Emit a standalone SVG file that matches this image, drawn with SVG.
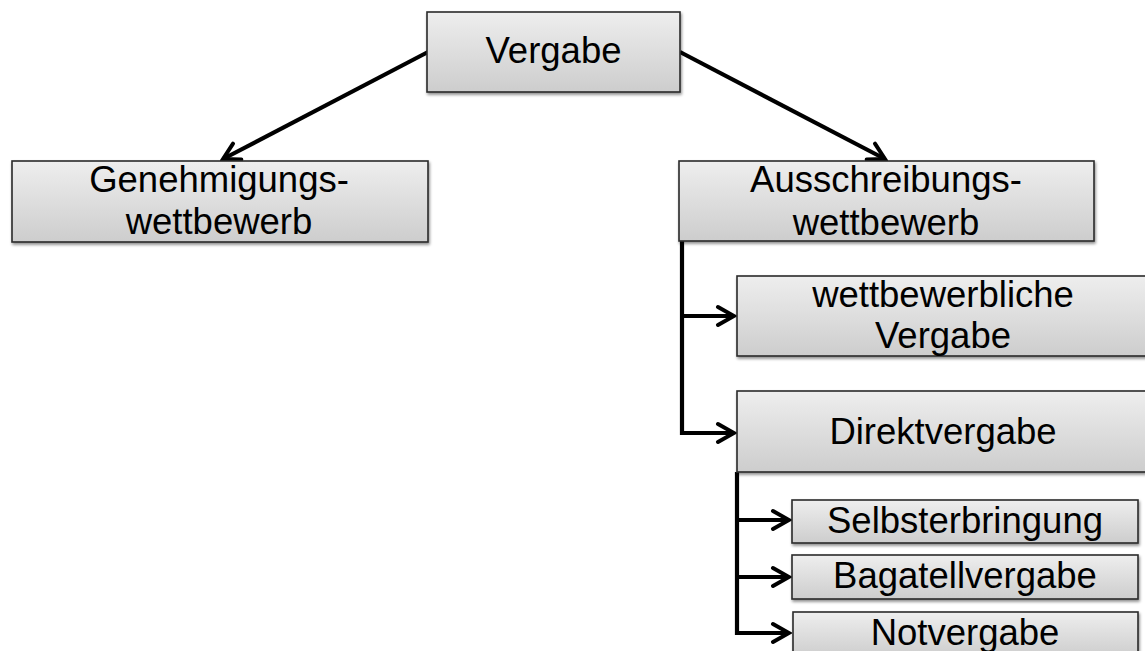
<svg xmlns="http://www.w3.org/2000/svg" width="1145" height="651" viewBox="0 0 1145 651">
  <defs>
    <linearGradient id="boxFill" x1="0" y1="0" x2="0" y2="1">
      <stop offset="0" stop-color="#eeeeee"/>
      <stop offset="1" stop-color="#cdcdcd"/>
    </linearGradient>
    <filter id="shadow" x="-5%" y="-10%" width="110%" height="130%">
      <feGaussianBlur in="SourceAlpha" stdDeviation="1.5"/>
      <feOffset dx="1" dy="2" result="b"/>
      <feComponentTransfer><feFuncA type="linear" slope="0.45"/></feComponentTransfer>
      <feMerge><feMergeNode/><feMergeNode in="SourceGraphic"/></feMerge>
    </filter>
    <!-- open chevron head, sized in user units -->
    <marker id="arrow" viewBox="0 0 22 24" refX="19" refY="12" markerWidth="22" markerHeight="24" markerUnits="userSpaceOnUse" orient="auto">
      <path d="M3,3 L19,12 L3,21" fill="none" stroke="#000" stroke-width="4" stroke-linecap="round" stroke-linejoin="miter"/>
    </marker>
  </defs>
  <style>
    .box { fill: url(#boxFill); stroke: #2a2a2a; stroke-width: 1.6; filter: url(#shadow); }
    .lbl { font-family: "Liberation Sans", Arial, sans-serif; font-size: 36.5px; fill: #000; text-anchor: middle; }
    .conn { fill: none; stroke: #000; stroke-width: 4.2; stroke-linejoin: miter; }
  </style>

  <rect width="1145" height="651" fill="#ffffff"/>

  <!-- connectors -->
  <g id="connectors">
    <path class="conn" d="M428,52 L223,159" marker-end="url(#arrow)"/>
    <path class="conn" d="M680,52 L885,159" marker-end="url(#arrow)"/>
    <path class="conn" d="M682,241 L682,433 L734,433" marker-end="url(#arrow)"/>
    <path class="conn" d="M682,316 L734,316" marker-end="url(#arrow)"/>
    <path class="conn" d="M737,472 L737,633 L789,633" marker-end="url(#arrow)"/>
    <path class="conn" d="M737,520 L789,520" marker-end="url(#arrow)"/>
    <path class="conn" d="M737,577 L789,577" marker-end="url(#arrow)"/>
  </g>

  <!-- nodes -->
  <g id="node-vergabe">
    <rect class="box" x="427" y="12" width="253" height="80"/>
    <text class="lbl" x="553.5" y="63">Vergabe</text>
  </g>
  <g id="node-genehmigung">
    <rect class="box" x="12" y="161" width="416" height="81"/>
    <text class="lbl" x="219" y="192">Genehmigungs-</text>
    <text class="lbl" x="219" y="234">wettbewerb</text>
  </g>
  <g id="node-ausschreibung">
    <rect class="box" x="679" y="161" width="415" height="80"/>
    <text class="lbl" x="886" y="192">Ausschreibungs-</text>
    <text class="lbl" x="886" y="235">wettbewerb</text>
  </g>
  <g id="node-wettbewerblich">
    <rect class="box" x="737" y="276" width="412" height="80"/>
    <text class="lbl" x="943" y="307">wettbewerbliche</text>
    <text class="lbl" x="943" y="348">Vergabe</text>
  </g>
  <g id="node-direkt">
    <rect class="box" x="737" y="391" width="412" height="81"/>
    <text class="lbl" x="943" y="444">Direktvergabe</text>
  </g>
  <g id="node-selbst">
    <rect class="box" x="792" y="500" width="346" height="43"/>
    <text class="lbl" x="965" y="533">Selbsterbringung</text>
  </g>
  <g id="node-bagatell">
    <rect class="box" x="792" y="555" width="346" height="44"/>
    <text class="lbl" x="965" y="588">Bagatellvergabe</text>
  </g>
  <g id="node-not">
    <rect class="box" x="793" y="612" width="345" height="45"/>
    <text class="lbl" x="965" y="645">Notvergabe</text>
  </g>
</svg>
